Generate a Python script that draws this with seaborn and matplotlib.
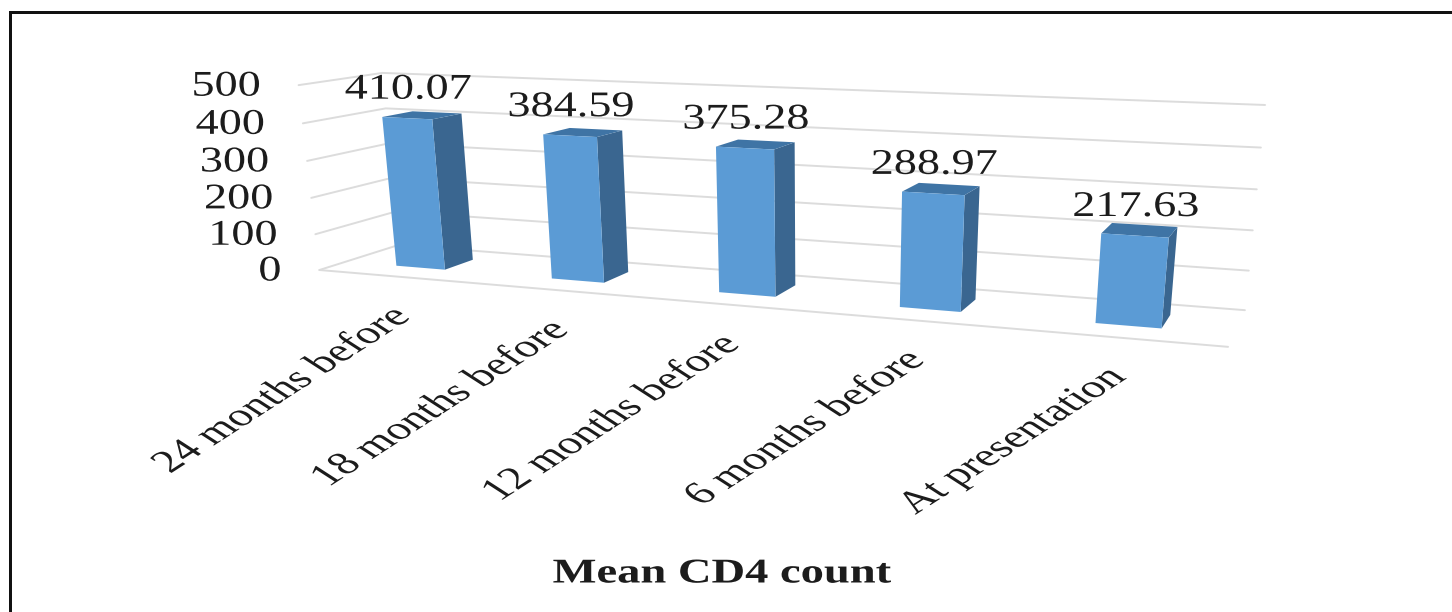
import numpy as np
import matplotlib
matplotlib.use("Agg")
import matplotlib.pyplot as plt
import seaborn as sns
from matplotlib.patches import Polygon, Rectangle
from matplotlib.patheffects import AbstractPathEffect
from matplotlib.transforms import Affine2D, IdentityTransform, Transform

# Chart data
categories = ["24 months before", "18 months before", "12 months before",
              "6 months before", "At presentation"]
mean_cd4 = [410.07, 384.59, 375.28, 288.97, 217.63]
value_ticks = [0, 100, 200, 300, 400, 500]
chart_title = "Mean CD4 count"

WIDTH, HEIGHT = 1452, 612
SERIF = "Liberation Serif"

# Reference corners of the chart box: (category axis, value, depth) -> pixel
BOX_WORLD = [(0, 0, 0), (5, 0, 0), (0, 0, 1), (5, 0, 1),
             (0, 500, 0), (0, 500, 1), (5, 500, 1)]
BOX_PIXEL = [(320, 270), (1228, 347), (398, 245), (1245, 310),
             (298, 85), (383, 73), (1265, 105)]


def fit_camera(world, pixel):
    rows = []
    for (X, Y, Z), (u, v) in zip(world, pixel):
        p = [X, Y / 100.0, Z, 1.0]
        rows.append(p + [0, 0, 0, 0] + [-u * c for c in p])
        rows.append([0, 0, 0, 0] + p + [-v * c for c in p])
    return np.linalg.svd(np.array(rows))[2][-1].reshape(3, 4)


CAMERA = fit_camera(BOX_WORLD, BOX_PIXEL)


def project(X, Y, Z):
    h = CAMERA @ np.array([X, Y / 100.0, Z, 1.0])
    return h[0] / h[2], HEIGHT - h[1] / h[2]


class DepthPlane(Transform):
    """Sends (category, value) on a plane of constant depth to display pixels."""
    input_dims = output_dims = 2
    has_inverse = False
    is_separable = False

    def __init__(self, plane_depth, shift=0.5):
        super().__init__()
        self.plane_depth, self.shift = plane_depth, shift

    def transform_non_affine(self, values):
        pts = np.asarray(values, dtype=float)
        return np.array([project(x + self.shift, y, self.plane_depth) for x, y in pts])


class WideGlyphs(AbstractPathEffect):
    """Widens drawn text horizontally about a fixed display x position."""

    def __init__(self, sx, x0):
        super().__init__()
        self.sx, self.x0 = sx, x0

    def draw_path(self, renderer, gc, tpath, affine, rgbFace=None):
        wide = affine + Affine2D().translate(-self.x0, 0).scale(self.sx, 1).translate(self.x0, 0)
        renderer.draw_path(gc, tpath, wide, rgbFace)


sns.set_theme(style="white")
plt.rcParams["font.family"] = [SERIF, "DejaVu Serif"]

fig = plt.figure(figsize=(WIDTH / 100, HEIGHT / 100), dpi=100, facecolor="white")
ax = fig.add_axes([0, 0, 1, 1])

frame = dict(facecolor="#111111", edgecolor="none", transform=IdentityTransform(), clip_on=False)
fig.add_artist(Rectangle((9, 0), 3, HEIGHT - 11, **frame))
fig.add_artist(Rectangle((9, HEIGHT - 14), WIDTH - 9, 3, **frame))


def put_text(px, py, s, size=26, sx=1.28, **kw):
    ax.text(px, HEIGHT - py, s, transform=IdentityTransform(), color="#1c1c1c",
            fontsize=size, clip_on=False, path_effects=[WideGlyphs(sx, px)], **kw)


GRID = "#dcdcdc"
for tick in value_ticks:
    xs = [project(0, tick, 0), project(0, tick, 1), project(5, tick, 1)]
    ax.plot(*zip(*xs), color=GRID, lw=1.4, transform=IdentityTransform(), clip_on=False, zorder=1)
    x0, y0 = project(0, tick, 0)
    put_text(x0 - 38, HEIGHT - y0 + 2, str(tick), ha="right", va="center")
ax.plot(*zip(project(0, 0, 0), project(5, 0, 0)), color=GRID, lw=1.4,
        transform=IdentityTransform(), clip_on=False, zorder=1)

# Columns: seaborn lays out the front faces, the box projection gives them depth
BAR_WIDTH = 0.32
Z_FRONT, Z_BACK = 0.32, 0.7
FRONT, SIDE, TOP = "#5b9bd5", "#3a6690", "#3f74a5"
sns.barplot(x=list(range(5)), y=mean_cd4, ax=ax, width=BAR_WIDTH, color=FRONT,
            saturation=1, native_scale=True, legend=False)

for bar, value, name in zip(list(ax.patches), mean_cd4, categories):
    left, right = bar.get_x(), bar.get_x() + bar.get_width()
    bar.set_transform(DepthPlane(Z_FRONT))
    bar.set_clip_on(False)
    bar.set_edgecolor("none")
    bar.set_zorder(4)
    X0, X1 = left + 0.5, right + 0.5
    side = [project(X1, 0, Z_FRONT), project(X1, 0, Z_BACK),
            project(X1, value, Z_BACK), project(X1, value, Z_FRONT)]
    top = [project(X0, value, Z_FRONT), project(X1, value, Z_FRONT),
           project(X1, value, Z_BACK), project(X0, value, Z_BACK)]
    ax.add_patch(Polygon(side, closed=True, facecolor=SIDE, edgecolor="none",
                         transform=IdentityTransform(), clip_on=False, zorder=3))
    ax.add_patch(Polygon(top, closed=True, facecolor=TOP, edgecolor="none",
                         transform=IdentityTransform(), clip_on=False, zorder=3))
    tx, ty = project((X0 + X1) / 2, value, Z_FRONT)
    put_text(tx + 1, HEIGHT - ty - 28, f"{value:.2f}", ha="center", va="center", zorder=6)
    ex, ey = project(X0, 0, 0)
    put_text(ex + 17, HEIGHT - ey + 28, name, size=22.7, sx=1.55, ha="right", va="top",
             rotation=45, rotation_mode="anchor")

put_text(722, 574, chart_title, size=25, sx=1.34, ha="center", va="center", fontweight="bold")

ax.set_axis_off()
ax.set_xlim(-0.5, 4.5)
ax.set_ylim(0, 500)
fig.savefig("out.png", dpi=100, facecolor="white")
